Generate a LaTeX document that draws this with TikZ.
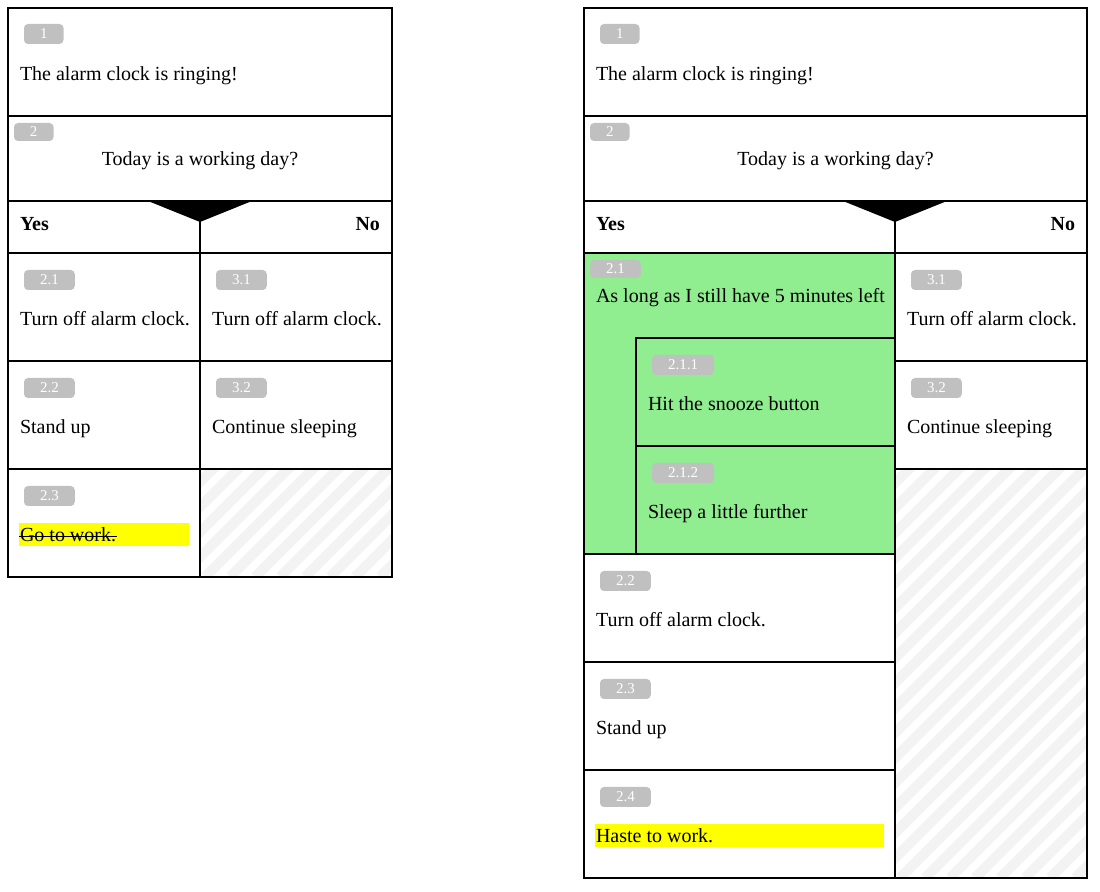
\documentclass[tikz,border=0pt]{standalone}
\usepackage{fontspec}
\setmainfont{Liberation Serif}

\definecolor{badgegray}{HTML}{C0C0C0}
\definecolor{stripegray}{HTML}{F3F3F3}
\definecolor{okgreen}{HTML}{90EE90}
\definecolor{marker}{HTML}{FFFF00}

\tikzset{
  badge/.style={fill=badgegray, text=white, rounded corners=2pt, anchor=north west,
    inner xsep=8pt, inner ysep=0pt, minimum height=10pt, font=\fontsize{7.5}{8}\selectfont},
  smallbadge/.style={badge, minimum height=9pt},
  txt/.style={anchor=base west, inner sep=0pt, font=\fontsize{10}{12}\selectfont},
  yesno/.style={txt, font=\fontsize{10}{12}\selectfont\bfseries},
  hatch/.style={stripegray, line width=5pt},
}

\begin{document}
\begin{tikzpicture}[x=0.5pt, y=-0.5pt, line width=1pt]
    \useasboundingbox (0,0) rectangle (1100,892);

    % 左图: 背景
    \fill[marker] (19,523) rectangle (189,546);
    \begin{scope}
        \clip (200,469) rectangle (392,577);
        \foreach \k in {-120,-95,...,200}
            \draw[hatch] (200+\k,577) -- ++(130,-130);
    \end{scope}

    % 左图: 框线
    \draw (8,8) rectangle (392,577);
    \foreach \y in {116,201,253,361,469}
        \draw (8,\y) -- (392,\y);
    \draw (200,201) -- (200,577);
    \fill (148,201) -- (252,201) -- (200,222) -- cycle;

    % 左图: 文字
    \node[badge] (lb1) at (23,23) {1};
    \node[txt] (lring) at (19,81) {The alarm clock is ringing!};
    \node[smallbadge] (lb2) at (13,122) {2};
    \node[txt, anchor=base] (lday) at (200,166) {Today is a working day?};
    \node[yesno] (lyes) at (19,231) {Yes};
    \node[yesno, anchor=base east] (lno) at (381,231) {No};
    \node[badge] (lb21) at (23,269) {2.1};
    \node[txt] (loff) at (19,326) {Turn off alarm clock.};
    \node[badge] (lb31) at (215,269) {3.1};
    \node[txt] (loffno) at (211,326) {Turn off alarm clock.};
    \node[badge] (lb22) at (23,377) {2.2};
    \node[txt] (lstand) at (19,434) {Stand up};
    \node[badge] (lb32) at (215,377) {3.2};
    \node[txt] (lsleep) at (211,434) {Continue sleeping};
    \node[badge] (lb23) at (23,485) {2.3};
    \node[txt] (lwork) at (19,542) {Go to work.};
    \draw[line width=0.6pt] ([yshift=2.8pt]lwork.base west) -- ([yshift=2.8pt]lwork.base east);

    % 右图: 背景
    \fill[okgreen] (584,253) rectangle (895,554);
    \fill[marker] (595,824) rectangle (884,847);
    \begin{scope}
        \clip (895,469) rectangle (1087,878);
        \foreach \k in {-420,-395,...,200}
            \draw[hatch] (895+\k,878) -- ++(430,-430);
    \end{scope}

    % 右图: 框线
    \draw (584,8) rectangle (1087,878);
    \foreach \y in {116,201,253}
        \draw (584,\y) -- (1087,\y);
    \foreach \y in {554,662,770}
        \draw (584,\y) -- (895,\y);
    \draw (636,338) rectangle (895,554);
    \draw (636,446) -- (895,446);
    \foreach \y in {361,469}
        \draw (895,\y) -- (1087,\y);
    \draw (895,201) -- (895,878);
    \fill (843,201) -- (947,201) -- (895,222) -- cycle;

    % 右图: 文字
    \node[badge] (rb1) at (599,23) {1};
    \node[txt] (rring) at (595,81) {The alarm clock is ringing!};
    \node[smallbadge] (rb2) at (589,122) {2};
    \node[txt, anchor=base] (rday) at (835.5,166) {Today is a working day?};
    \node[yesno] (ryes) at (595,231) {Yes};
    \node[yesno, anchor=base east] (rno) at (1076,231) {No};
    \node[smallbadge] (rb21) at (589,259) {2.1};
    \node[txt] (rloop) at (595,303) {As long as I still have 5 minutes left};
    \node[badge] (rb211) at (651,354) {2.1.1};
    \node[txt] (rsnooze) at (647,411) {Hit the snooze button};
    \node[badge] (rb212) at (651,462) {2.1.2};
    \node[txt] (rfurther) at (647,519) {Sleep a little further};
    \node[badge] (rb22) at (599,570) {2.2};
    \node[txt] (roff) at (595,627) {Turn off alarm clock.};
    \node[badge] (rb23) at (599,678) {2.3};
    \node[txt] (rstand) at (595,735) {Stand up};
    \node[badge] (rb24) at (599,786) {2.4};
    \node[txt] (rhaste) at (595,843) {Haste to work.};
    \node[badge] (rb31) at (910,269) {3.1};
    \node[txt] (roffno) at (906,326) {Turn off alarm clock.};
    \node[badge] (rb32) at (910,377) {3.2};
    \node[txt] (rsleep) at (906,434) {Continue sleeping};
\end{tikzpicture}
\end{document}
